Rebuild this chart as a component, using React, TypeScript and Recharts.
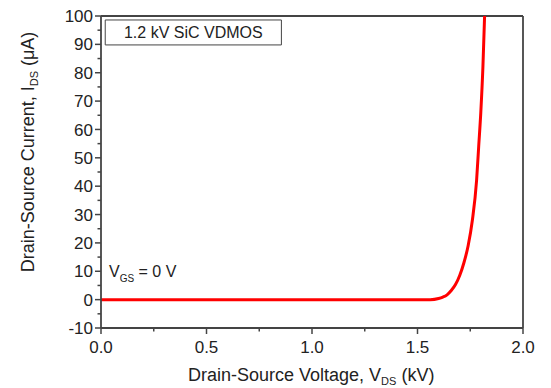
import React from 'react';
import {
  LineChart,
  Line,
  XAxis,
  YAxis,
  ReferenceLine,
  ReferenceArea,
  Label,
  Customized,
} from 'recharts';

// Drain-source leakage current of a 1.2 kV SiC VDMOS at V_GS = 0 V
const vdsKV = [0, 0.2, 0.4, 0.6, 0.8, 1.0, 1.2, 1.4, 1.5, 1.56, 1.6, 1.62, 1.64, 1.66, 1.68, 1.7, 1.72, 1.74, 1.76, 1.78, 1.79, 1.8, 1.81, 1.818];
const idsUA = [0, 0, 0, 0, 0, 0, 0, 0, 0, 0, 0.4, 0.9, 1.7, 3.2, 5.3, 8.5, 13, 19, 28, 42, 54, 66, 82, 100];

const xTicks = [0, 0.25, 0.5, 0.75, 1.0, 1.25, 1.5, 1.75, 2.0];
const xMajor = [0, 0.5, 1.0, 1.5, 2.0];
const yTicks = [-10, -5, 0, 5, 10, 15, 20, 25, 30, 35, 40, 45, 50, 55, 60, 65, 70, 75, 80, 85, 90, 95, 100];
const yMajor = [-10, 0, 10, 20, 30, 40, 50, 60, 70, 80, 90, 100];

const data = vdsKV.map((v, i) => ({ vds: v, ids: idsUA[i] }));

const FONT = '"Liberation Sans", Arial, sans-serif';
const AXIS = '#444';
const TEXT = '#222';

const isMajor = (list: number[], v: number) => list.some((m) => Math.abs(m - v) < 1e-9);

const XTick = (props: any) => {
  const { x, y, payload } = props;
  const v = payload.value as number;
  const major = isMajor(xMajor, v);
  return (
    <g>
      <line x1={x} x2={x} y1={y} y2={y + (major ? 6 : 3.5)} stroke={AXIS} strokeWidth={1.5} />
      {major && (
        <text x={x} y={y + 25} textAnchor="middle" fontFamily={FONT} fontSize={17} fill={TEXT}>
          {v.toFixed(1)}
        </text>
      )}
    </g>
  );
};

const YTick = (props: any) => {
  const { x, y, payload } = props;
  const v = payload.value as number;
  const major = isMajor(yMajor, v);
  return (
    <g>
      <line x1={x} x2={x - (major ? 6 : 3.5)} y1={y} y2={y} stroke={AXIS} strokeWidth={1.5} />
      {major && (
        <text x={x - 8} y={y} dy="0.36em" textAnchor="end" fontFamily={FONT} fontSize={17} fill={TEXT}>
          {v}
        </text>
      )}
    </g>
  );
};

const Titles = () => (
  <g fontFamily={FONT} fill={TEXT}>
    <text x={188} y={381} fontSize={18}>
      Drain-Source Voltage, V
      <tspan dy={4} fontSize={11}>DS</tspan>
      <tspan dy={-4}> (kV)</tspan>
    </text>
    <text transform="translate(34,152) rotate(-90)" textAnchor="middle" fontSize={18}>
      Drain-Source Current, I
      <tspan dy={4} fontSize={11}>DS</tspan>
      <tspan dy={-4}> (μA)</tspan>
    </text>
    <text x={109} y={277} fontSize={16}>
      V
      <tspan dy={5} fontSize={10}>GS</tspan>
      <tspan dy={-5}> = 0 V</tspan>
    </text>
  </g>
);

export default function App() {
  return (
    <div style={{ position: 'absolute', left: 0, top: 0, background: '#fff' }}>
      <LineChart
        width={551}
        height={388}
        data={data}
        margin={{ top: 16, right: 28, bottom: 0, left: 0 }}
      >
        <XAxis
          dataKey="vds"
          type="number"
          domain={[0, 2]}
          ticks={xTicks}
          interval={0}
          tickSize={0}
          tickMargin={0}
          tickLine={false}
          tick={<XTick />}
          height={60}
          axisLine={{ stroke: AXIS, strokeWidth: 1.8 }}
          allowDataOverflow
        />
        <YAxis
          type="number"
          domain={[-10, 100]}
          ticks={yTicks}
          interval={0}
          tickSize={0}
          tickMargin={0}
          tickLine={false}
          tick={<YTick />}
          width={101}
          axisLine={{ stroke: AXIS, strokeWidth: 1.8 }}
          allowDataOverflow
        />
        <ReferenceLine y={100} stroke={AXIS} strokeWidth={2} />
        <ReferenceLine x={2} stroke={AXIS} strokeWidth={1.8} />
        <ReferenceArea
          x1={0.02}
          x2={0.855}
          y1={89.8}
          y2={98.6}
          fill="#fff"
          fillOpacity={1}
          stroke={AXIS}
          strokeWidth={1}
        >
          <Label
            value="1.2 kV SiC VDMOS"
            position="center"
            fontFamily={FONT}
            fontSize={16}
            fill={TEXT}
          />
        </ReferenceArea>
        <Line
          type="monotone"
          dataKey="ids"
          stroke="#ff0000"
          strokeWidth={3}
          dot={false}
          isAnimationActive={false}
        />
        <Customized component={Titles} />
      </LineChart>
    </div>
  );
}
